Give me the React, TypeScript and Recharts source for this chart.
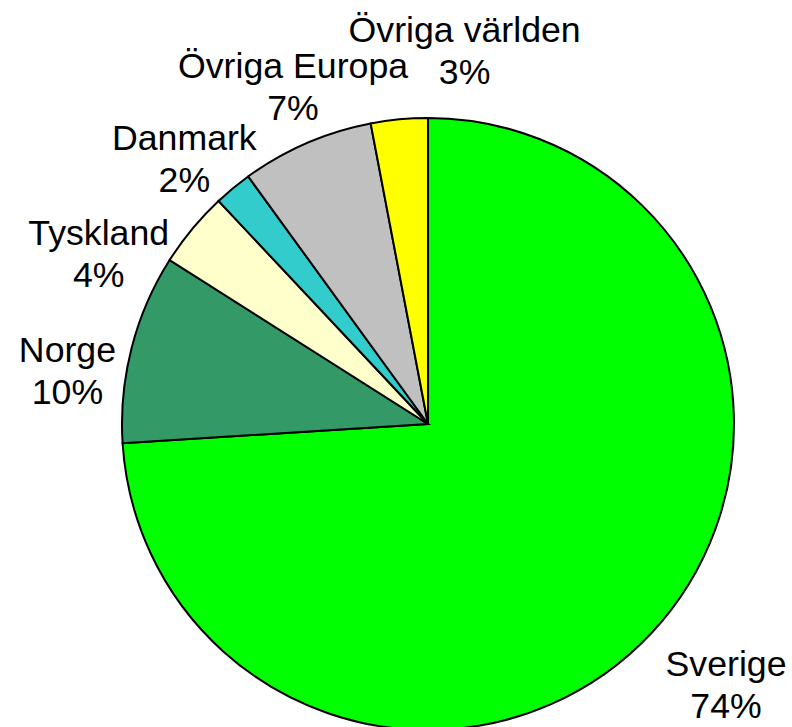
import { PieChart, Pie, Cell } from 'recharts';

const REGIONS = ['Sverige', 'Norge', 'Tyskland', 'Danmark', 'Övriga Europa', 'Övriga världen'];
const SHARES = [74, 10, 4, 2, 7, 3];
const COLORS = ['#00FF00', '#339966', '#FFFFCC', '#33CCCC', '#C0C0C0', '#FFFF00'];

// small per-label nudges so the labels sit where the original placed them
const LABEL_NUDGE: [number, number][] = [
  [32, 2],
  [-7, 29],
  [-48, 54],
  [-11, 7],
  [10, -11],
  [71, -19],
];

const data = REGIONS.map((name, i) => ({ name, value: SHARES[i] }));

const RAD = Math.PI / 180;

const renderLabel = (props: any) => {
  const { cx, cy, midAngle, outerRadius, index, name, percent } = props;
  const r = outerRadius + 59;
  const [nx, ny] = LABEL_NUDGE[index] || [0, 0];
  const x = cx + r * Math.cos(-midAngle * RAD) + nx;
  const y = cy + r * Math.sin(-midAngle * RAD) + ny;
  return (
    <text
      x={x}
      y={y}
      textAnchor="middle"
      fill="#000"
      fontSize={35.7}
      fontFamily="'Liberation Sans', Arial, sans-serif"
    >
      <tspan x={x} y={y}>{name}</tspan>
      <tspan x={x} y={y + 42}>{`${Math.round(percent * 100)}%`}</tspan>
    </text>
  );
};

export default function App() {
  return (
    <div style={{ position: 'absolute', left: 0, top: 0, width: 792, height: 727, background: '#fff' }}>
      <PieChart width={792} height={727} margin={{ top: 0, right: 0, bottom: 0, left: 0 }}>
        <Pie
          data={data}
          dataKey="value"
          nameKey="name"
          cx={428}
          cy={424}
          outerRadius={306}
          startAngle={90}
          endAngle={-270}
          stroke="#000"
          strokeWidth={2}
          label={renderLabel}
          labelLine={false}
          isAnimationActive={false}
        >
          {data.map((entry, i) => (
            <Cell key={entry.name} fill={COLORS[i]} />
          ))}
        </Pie>
      </PieChart>
    </div>
  );
}
